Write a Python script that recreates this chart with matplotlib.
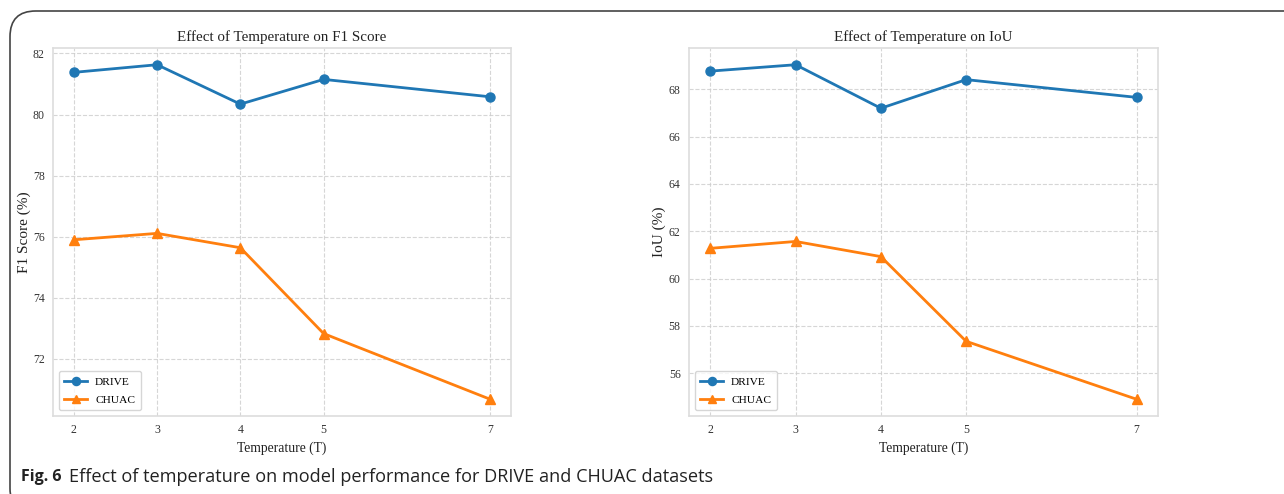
import numpy as np
import matplotlib.pyplot as plt
from matplotlib.patches import FancyBboxPatch

temps = [2, 3, 4, 5, 7]
f1_drive = [81.38, 81.63, 80.34, 81.15, 80.58]
f1_chuac = [75.90, 76.11, 75.64, 72.83, 70.68]
iou_drive = [68.77, 69.04, 67.20, 68.41, 67.66]
iou_chuac = [61.28, 61.57, 60.93, 57.35, 54.90]

W, H = 1284, 494
plt.rcParams['font.family'] = ['Liberation Serif', 'DejaVu Serif']

fig = plt.figure(figsize=(W / 100, H / 100), dpi=100)

# rounded frame around the figure panel
frame = FancyBboxPatch((10 / W, -20 / H), 1400 / W, (H - 11 + 20) / H,
                       boxstyle="round,pad=0,rounding_size=0.02",
                       transform=fig.transFigure, fill=False,
                       edgecolor='#444444', linewidth=1.2, mutation_aspect=W / H)
fig.patches.append(frame)


def panel(rect, drive, chuac, title, ylabel, yticks):
    ax = fig.add_axes(rect)
    ax.plot(temps, drive, color='#1f77b4', marker='o', markersize=6.5,
            linewidth=2.0, label='DRIVE')
    ax.plot(temps, chuac, color='#ff7f0e', marker='^', markersize=6.5,
            linewidth=2.0, label='CHUAC')
    ax.set_xticks(temps)
    ax.set_yticks(yticks)
    ax.grid(True, linestyle='--', color='#cccccc', linewidth=0.8, alpha=0.8)
    ax.set_axisbelow(True)
    for s in ax.spines.values():
        s.set_color('#dddddd')
        s.set_linewidth(1.2)
    ax.tick_params(length=0, labelsize=8.5, colors='#333333', pad=6)
    ax.set_title(title, fontsize=10.8, color='#222222', pad=5)
    ax.set_xlabel('Temperature (T)', fontsize=9.8, color='#222222', labelpad=4)
    ax.set_ylabel(ylabel, fontsize=11, color='#222222')
    ax.yaxis.set_label_coords(-0.049, 0.5)
    leg = ax.legend(loc='lower left', fontsize=8.2, frameon=True, fancybox=True,
                    borderpad=0.5, handlelength=2.0, handletextpad=0.7,
                    labelspacing=0.7, markerscale=0.9)
    leg.get_frame().set_edgecolor('#cccccc')
    return ax


panel([53 / W, 78 / H, 458 / W, 368 / H], f1_drive, f1_chuac,
      'Effect of Temperature on F1 Score', 'F1 Score (%)', [72, 74, 76, 78, 80, 82])
panel([689 / W, 78 / H, 469 / W, 368 / H], iou_drive, iou_chuac,
      'Effect of Temperature on IoU', 'IoU (%)', [56, 58, 60, 62, 64, 66, 68])

fig.text(21 / W, 1 - 477 / H, 'Fig. 6', fontsize=11.5, fontweight='bold',
         family=['Open Sans', 'DejaVu Sans'], va='center', color='#222222')
fig.text(69 / W, 1 - 477 / H,
         'Effect of temperature on model performance for DRIVE and CHUAC datasets',
         fontsize=13.1, family=['Open Sans', 'DejaVu Sans'], va='center', color='#222222')

fig.savefig('out.png', dpi=100)
